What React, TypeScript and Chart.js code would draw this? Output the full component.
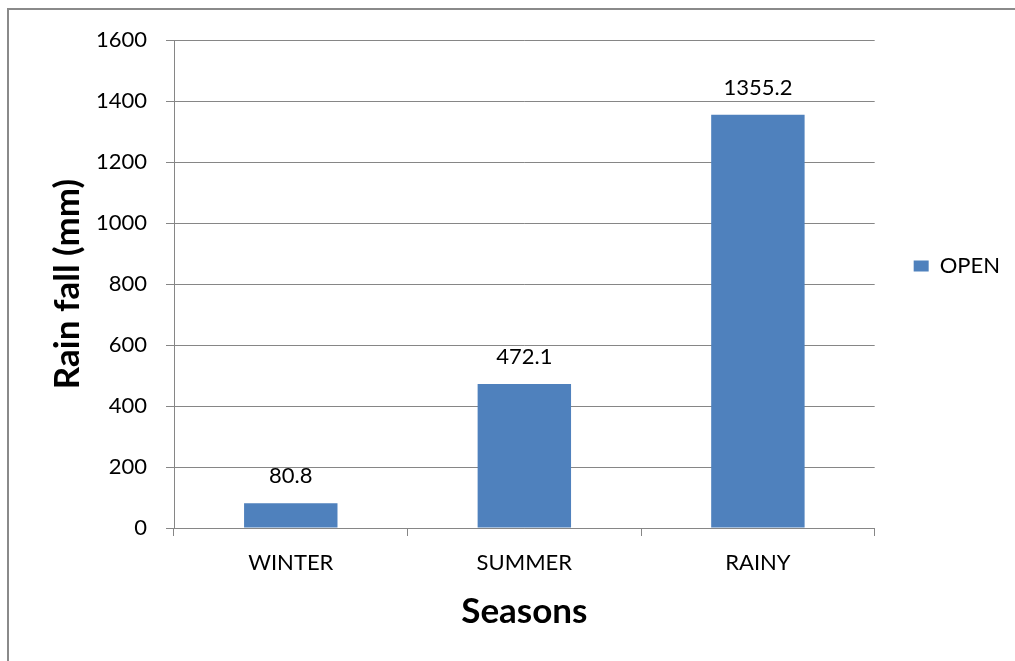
import { useEffect, useRef } from "react";
import { Chart, registerables } from "chart.js";

Chart.register(...registerables);

// Seasonal rainfall totals
const seasons = ["WINTER", "SUMMER", "RAINY"];
const rainfallMm = [80.8, 472.1, 1355.2];
const seriesName = "OPEN";
const yMin = 0;
const yMax = 1600;
const yStep = 200;

const FONT = "Lato, 'Open Sans', sans-serif";
const GRID = "#868686";
const BAR = "#4F81BD";
const TEXT = "#000000";

// Writes each bar's value centred above it
const valueLabels = {
  id: "valueLabels",
  afterDatasetsDraw(chart: any) {
    const { ctx } = chart;
    const meta = chart.getDatasetMeta(0);
    const values = chart.data.datasets[0].data as number[];
    ctx.save();
    ctx.font = `22px ${FONT}`;
    ctx.fillStyle = TEXT;
    ctx.textAlign = "center";
    ctx.textBaseline = "middle";
    meta.data.forEach((bar: any, i: number) => {
      ctx.fillText(String(values[i]), bar.x, bar.y - 27);
    });
    ctx.restore();
  },
};

// Lifts the side legend slightly above the plot's middle
const legendLift = {
  id: "legendLift",
  afterLayout(chart: any) {
    const lg = chart.legend;
    if (lg) {
      lg.top -= 18;
      lg.bottom -= 18;
    }
  },
};

export default function App() {
  const canvasRef = useRef<HTMLCanvasElement | null>(null);

  useEffect(() => {
    const canvas = canvasRef.current;
    if (!canvas) return;
    const chart = new Chart(canvas, {
      type: "bar",
      data: {
        labels: seasons,
        datasets: [
          {
            label: seriesName,
            data: rainfallMm,
            backgroundColor: BAR,
            borderWidth: 0,
            barPercentage: 0.4,
            categoryPercentage: 1,
          },
        ],
      },
      options: {
        responsive: false,
        animation: false,
        devicePixelRatio: 1,
        layout: { padding: { left: 0, top: 40, right: 5, bottom: 0 } },
        plugins: {
          tooltip: { enabled: false },
          legend: {
            display: true,
            position: "right",
            fullSize: false,
            labels: {
              boxWidth: 15,
              boxHeight: 11,
              padding: 39,
              color: TEXT,
              font: { family: FONT, size: 22 },
            },
          },
        },
        scales: {
          x: {
            offset: true,
            grid: {
              offset: true,
              drawOnChartArea: false,
              drawTicks: true,
              tickLength: 8,
              color: GRID,
            },
            border: { color: GRID, width: 1 },
            ticks: { color: TEXT, font: { family: FONT, size: 22 }, padding: 14 },
            title: {
              display: true,
              text: "Seasons",
              color: TEXT,
              font: { family: FONT, size: 35, weight: "bold" },
              padding: { top: 0, bottom: 28 },
            },
            afterFit: (scale: any) => {
              scale.height = 133;
            },
          },
          y: {
            min: yMin,
            max: yMax,
            ticks: {
              stepSize: yStep,
              color: TEXT,
              font: { family: FONT, size: 22 },
              padding: 19,
              callback: (value: any) => String(value),
            },
            grid: { color: GRID, tickLength: 8 },
            border: { color: GRID, width: 1 },
            title: {
              display: true,
              text: "Rain fall (mm)",
              color: TEXT,
              font: { family: FONT, size: 35, weight: "bold" },
              padding: { top: 47, bottom: 0 },
            },
            afterFit: (scale: any) => {
              scale.width = 174;
            },
          },
        },
      },
      plugins: [valueLabels, legendLift],
    });
    return () => chart.destroy();
  }, []);

  return (
    <div
      style={{
        position: "fixed",
        left: 0,
        top: 0,
        width: 1015,
        height: 661,
        background: "#ffffff",
        overflow: "hidden",
      }}
    >
      <canvas
        ref={canvasRef}
        width={1015}
        height={661}
        style={{ position: "absolute", left: 0, top: 0, width: 1015, height: 661 }}
      />
      <div
        style={{
          position: "absolute",
          left: 7,
          top: 8,
          width: 1015,
          height: 661,
          borderLeft: "2px solid #8a8a8a",
          borderTop: "2px solid #8a8a8a",
          pointerEvents: "none",
        }}
      />
    </div>
  );
}
